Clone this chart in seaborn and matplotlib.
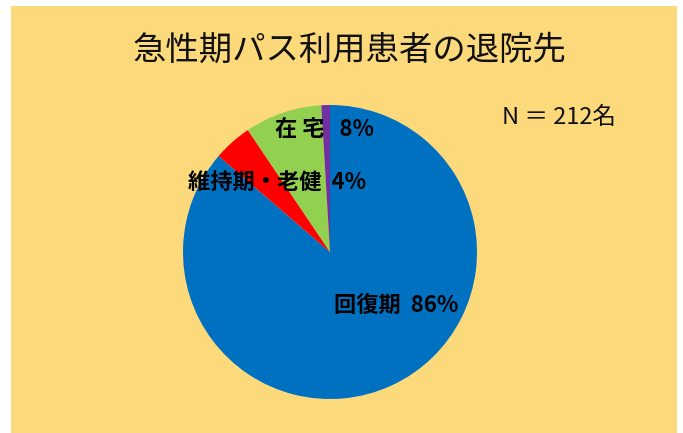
import matplotlib
matplotlib.use("Agg")
import matplotlib.pyplot as plt
import seaborn as sns
from matplotlib.patches import Rectangle

sns.set_style("white")
plt.rcParams['font.family'] = ['Noto Sans CJK JP', 'DejaVu Sans']

title = "急性期パス利用患者の退院先"
note = "N ＝ 212名"
categories = ["回復期", "維持期・老健", "在宅", "その他"]
counts = [183, 9, 18, 2]
labels = ["回復期  86%", "維持期・老健  4%", "在 宅   8%", ""]
colors = ["#0070C0", "#FF0000", "#92D050", "#7030A0"]

W, H = 683, 433
fig = plt.figure(figsize=(W / 100, H / 100), dpi=100, facecolor="white")

# yellow panel
fig.patches.append(Rectangle((11 / W, 0), (677 - 11) / W, (H - 6) / H,
                             transform=fig.transFigure, facecolor="#FCD97A",
                             edgecolor="none", zorder=-5))

cx, cy, r = 330, 252, 147
ax = fig.add_axes([(cx - r) / W, (H - cy - r) / H, 2 * r / W, 2 * r / H])
ax.set_zorder(2)
ax.set_facecolor("none")
wedges, _ = ax.pie(counts, colors=colors, startangle=90, counterclock=False,
                   radius=1.0, wedgeprops=dict(linewidth=0))
ax.set_xlim(-1, 1)
ax.set_ylim(-1, 1)
ax.set_aspect("equal")
ax.axis("off")

# data labels (positions in pie data units)
label_pos = [(0.45, -0.36), (-0.36, 0.475), (-0.04, 0.83)]
for lab, (x, y) in zip(labels[:3], label_pos):
    ax.text(x, y, lab, ha="center", va="center", fontsize=16,
            fontweight="bold", color="black")

fig.text(350 / W, 1 - 50 / H, title, ha="center", va="center", fontsize=24,
         color="#111111", zorder=3)
fig.text(559 / W, 1 - 117 / H, note, ha="center", va="center", fontsize=17,
         color="#111111", zorder=3)

fig.savefig("out.png", dpi=100, facecolor="white")
